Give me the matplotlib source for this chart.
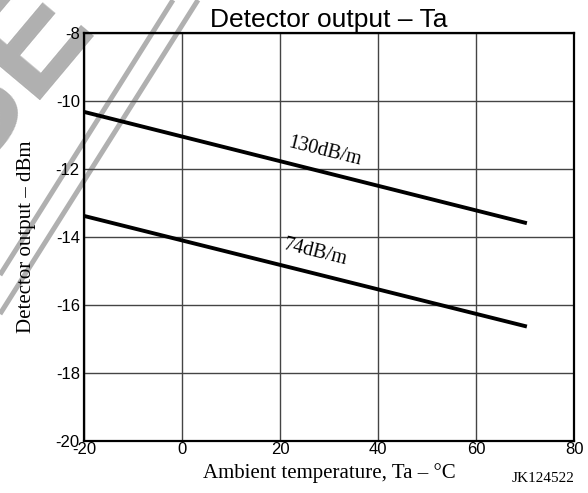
import matplotlib
matplotlib.use("Agg")
import matplotlib.pyplot as plt

plt.rcParams["axes.unicode_minus"] = False

# data
temp = [-20, 70]
out_130 = [-10.32, -13.58]
out_74 = [-13.38, -16.62]
xticks = [-20, 0, 20, 40, 60, 80]
yticks = [-20, -18, -16, -14, -12, -10, -8]

sans = "Liberation Sans"
serif = "Liberation Serif"

fig = plt.figure(figsize=(5.88, 4.93), dpi=100)

# background layer for the watermark (pixel coords, y down)
bg = fig.add_axes([0, 0, 1, 1], zorder=0)
bg.set_xlim(0, 588)
bg.set_ylim(493, 0)
bg.axis("off")
wm = "#b0b0b0"
bg.plot([173, 0], [0, 275], color=wm, lw=3.6, solid_capstyle="butt")
bg.plot([198, 0], [0, 314], color=wm, lw=3.6, solid_capstyle="butt")
bg.text(97, 27, "SE", fontsize=108, family=["Liberation Sans Narrow", sans],
        fontweight="bold", color=wm, rotation=50, ha="right", va="baseline",
        rotation_mode="anchor", clip_on=True)

ax = fig.add_axes([84 / 588, 52 / 493, 490 / 588, 408 / 493], zorder=1)
ax.patch.set_alpha(0)

ax.plot(temp, out_130, color="black", lw=2.8, zorder=3)
ax.plot(temp, out_74, color="black", lw=2.8, zorder=3)

ax.set_xlim(-20, 80)
ax.set_ylim(-20, -8)
ax.set_xticks(xticks)
ax.set_yticks(yticks)
ax.tick_params(length=0, labelsize=12)
ax.tick_params(axis="x", pad=1)
ax.tick_params(axis="y", pad=3)
for lab in ax.get_xticklabels() + ax.get_yticklabels():
    lab.set_family(sans)
ax.grid(True, color="#444444", lw=1.0)
for s in ax.spines.values():
    s.set_linewidth(1.6)
    s.set_color("black")

ax.text(29.2, -11.5, "130dB/m", family=serif, fontsize=14.5, rotation=-14,
        ha="center", va="center", rotation_mode="anchor")
ax.text(27.1, -14.47, "74dB/m", family=serif, fontsize=14.5, rotation=-14,
        ha="center", va="center", rotation_mode="anchor")

ax.set_title("Detector output \u2013 Ta", family=sans, fontsize=19, pad=4.5)
ax.set_xlabel("Ambient temperature, Ta \u2013 \u00b0C", family=serif, fontsize=15, labelpad=4)
ax.set_ylabel("Detector output \u2013 dBm", family=serif, fontsize=15, labelpad=14)

fig.text(575 / 588, 1 - 479 / 493, "JK124522", family=serif, fontsize=11,
         ha="right", va="center")

fig.savefig("out.png", dpi=100)
